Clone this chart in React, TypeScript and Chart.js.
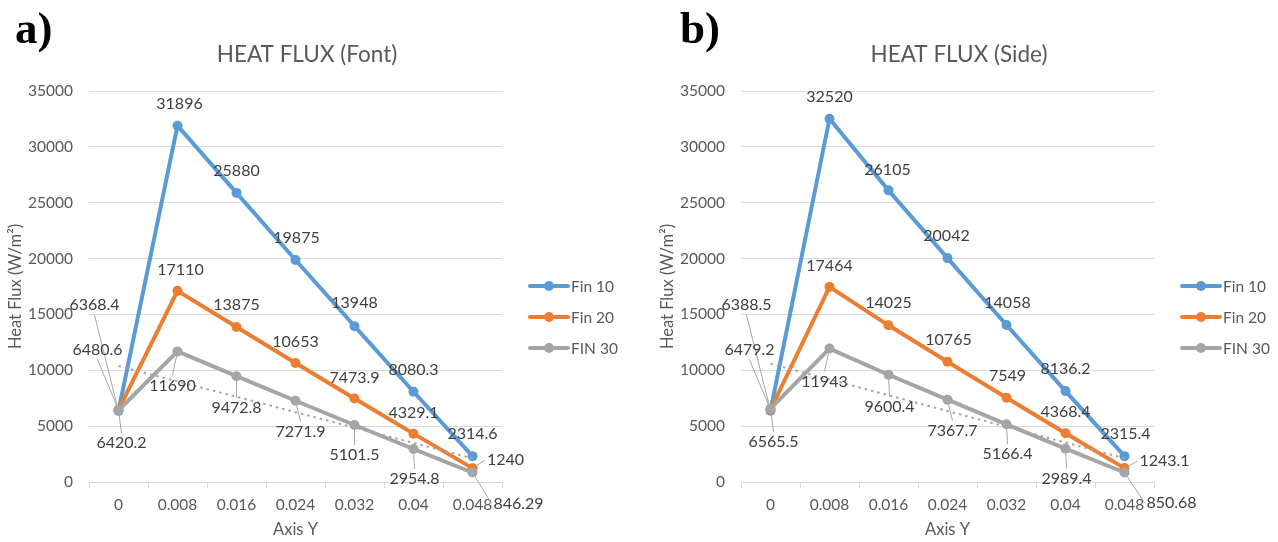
import React, { useEffect, useRef } from "react";
import { Chart, registerables } from "chart.js";

Chart.register(...registerables);

// ---------- data ----------
const categories = ["0", "0.008", "0.016", "0.024", "0.032", "0.04", "0.048"];
const yTicks = [0, 5000, 10000, 15000, 20000, 25000, 30000, 35000];

const frontFin10 = [6368.4, 31896, 25880, 19875, 13948, 8080.3, 2314.6];
const frontFin20 = [6480.6, 17110, 13875, 10653, 7473.9, 4329.1, 1240];
const frontFin30 = [6420.2, 11690, 9472.8, 7271.9, 5101.5, 2954.8, 846.29];

const sideFin10 = [6388.5, 32520, 26105, 20042, 14058, 8136.2, 2315.4];
const sideFin20 = [6479.2, 17464, 14025, 10765, 7549, 4368.4, 1243.1];
const sideFin30 = [6565.5, 11943, 9600.4, 7367.7, 5166.4, 2989.4, 850.68];

const seriesNames = ["Fin 10", "Fin 20", "FIN 30"];

// label placement (pixel offsets of label centre from its point)
const frontLabelOffsets = [
  [[-24, -106], [2, -22], [0, -22], [1, -22], [0, -23], [0, -22], [0, -22]],
  [[-21, -60], [3, -21], [0, -22], [0, -21], [0, -21], [0, -21], [33, -8]],
  [[3, 33], [-5, 34], [0, 32], [5, 31], [0, 30], [1, 30], [46, 31]],
];
const sideLabelOffsets = [
  [[-24, -106], [0, -22], [-1, -21], [-1, -22], [1, -22], [0, -22], [1, -22]],
  [[-21, -60], [0, -21], [0, -22], [1, -22], [1, -22], [0, -21], [40, -7]],
  [[3, 33], [-5, 33], [1, 32], [5, 31], [1, 30], [1, 30], [47, 30]],
];

// ---------- style ----------
const COLORS = ["#5B9BD5", "#ED7D31", "#A5A5A5"];
const TEXT = "#595959";
const LABEL = "#404040";
const GRID = "#D9D9D9";
const FONT = "Lato";

function linearTrend(values: number[]): number[] {
  const n = values.length;
  const mx = (n - 1) / 2;
  const my = values.reduce((a, b) => a + b, 0) / n;
  let sxy = 0;
  let sxx = 0;
  values.forEach((v, i) => {
    sxy += (i - mx) * (v - my);
    sxx += (i - mx) * (i - mx);
  });
  const slope = sxy / sxx;
  return values.map((_, i) => my + slope * (i - mx));
}

const dataLabelPlugin = {
  id: "dataLabels",
  afterDatasetsDraw(chart: any, _args: any, opts: any) {
    const ctx = chart.ctx;
    const offsets = opts.offsets as number[][][];
    ctx.save();
    ctx.font = `16px ${FONT}`;
    ctx.textAlign = "center";
    ctx.textBaseline = "middle";
    for (let di = 0; di < 3; di++) {
      const meta = chart.getDatasetMeta(di);
      const ds = chart.data.datasets[di];
      meta.data.forEach((pt: any, i: number) => {
        const text = String(ds.data[i]);
        const [dx, dy] = offsets[di][i];
        const cx = pt.x + dx;
        const cy = pt.y + dy;
        const w = ctx.measureText(text).width;
        const h = 16;
        if (Math.hypot(dx, dy) > 26) {
          let sx: number, sy: number;
          if (Math.abs(dy) > Math.abs(dx)) {
            sx = cx;
            sy = dy > 0 ? cy - h / 2 - 2 : cy + h / 2 + 2;
          } else {
            sx = dx > 0 ? cx - w / 2 - 2 : cx + w / 2 + 2;
            sy = cy;
          }
          const vx = sx - pt.x;
          const vy = sy - pt.y;
          const len = Math.hypot(vx, vy) || 1;
          const ex = pt.x + (vx / len) * 4;
          const ey = pt.y + (vy / len) * 4;
          ctx.strokeStyle = "#A6A6A6";
          ctx.lineWidth = 1;
          ctx.beginPath();
          ctx.moveTo(sx, sy);
          ctx.lineTo(ex, ey);
          ctx.stroke();
        }
        ctx.fillStyle = LABEL;
        ctx.fillText(text, cx, cy);
      });
    }
    ctx.restore();
  },
};

const legendPlugin = {
  id: "lineLegend",
  afterDraw(chart: any) {
    const { ctx, chartArea } = chart;
    const x0 = chartArea.right + 28;
    ctx.save();
    chart.data.datasets.slice(0, 3).forEach((ds: any, i: number) => {
      const y = chartArea.top + 195 + i * 31;
      ctx.strokeStyle = ds.borderColor;
      ctx.fillStyle = ds.borderColor;
      ctx.lineWidth = 4;
      ctx.lineCap = "round";
      ctx.beginPath();
      ctx.moveTo(x0, y);
      ctx.lineTo(x0 + 38, y);
      ctx.stroke();
      ctx.beginPath();
      ctx.arc(x0 + 19, y, 5, 0, Math.PI * 2);
      ctx.fill();
      ctx.fillStyle = TEXT;
      ctx.font = `15.5px ${FONT}`;
      ctx.textAlign = "left";
      ctx.textBaseline = "middle";
      ctx.fillText(ds.label, x0 + 41, y + 1);
    });
    ctx.restore();
  },
};

function Panel(props: {
  title: string;
  s10: number[];
  s20: number[];
  s30: number[];
  offsets: number[][][];
}) {
  const ref = useRef<HTMLCanvasElement>(null);
  useEffect(() => {
    const series = [props.s10, props.s20, props.s30];
    const datasets: any[] = series.map((data, i) => ({
      label: seriesNames[i],
      data,
      borderColor: COLORS[i],
      backgroundColor: COLORS[i],
      borderWidth: 4,
      pointRadius: 5,
      pointBorderWidth: 0,
      pointBackgroundColor: COLORS[i],
      tension: 0,
      order: 3 - i,
    }));
    datasets.push({
      label: "Linear (FIN 30)",
      data: linearTrend(props.s30),
      borderColor: "#A5A5A5",
      borderWidth: 2,
      borderDash: [2.5, 4],
      pointRadius: 0,
      tension: 0,
      order: 0,
    });
    const chart = new Chart(ref.current as HTMLCanvasElement, {
      type: "line",
      data: { labels: categories, datasets },
      options: {
        responsive: false,
        animation: false,
        layout: { padding: { left: 0, right: 26, top: 0, bottom: 0 } },
        plugins: {
          legend: { display: false },
          tooltip: { enabled: false },
          title: {
            display: true,
            text: props.title,
            color: TEXT,
            font: { family: FONT, size: 22.5, weight: "normal" },
            padding: { top: 41, bottom: 23 },
          },
          dataLabels: { offsets: props.offsets },
        } as any,
        scales: {
          x: {
            type: "category",
            offset: true,
            grid: {
              offset: true,
              drawOnChartArea: false,
              drawTicks: true,
              tickLength: 6,
              color: GRID,
            },
            border: { display: true, color: GRID, width: 1 },
            ticks: {
              color: TEXT,
              font: { family: FONT, size: 15.5 },
              padding: 8,
              maxRotation: 0,
              autoSkip: false,
            },
            title: {
              display: true,
              text: "Axis Y",
              color: TEXT,
              font: { family: FONT, size: 16.5 },
              padding: { top: 0, bottom: 2 },
            },
            afterFit: (s: any) => {
              s.height = 60;
            },
          },
          y: {
            type: "linear",
            min: yTicks[0],
            max: yTicks[yTicks.length - 1],
            afterBuildTicks: (s: any) => {
              s.ticks = yTicks.map((v) => ({ value: v }));
            },
            ticks: {
              callback: (v: any) => String(v),
              padding: 16,
              color: TEXT,
              font: { family: FONT, size: 15.5 },
            },
            grid: { color: GRID, drawTicks: false },
            border: { display: false },
            title: {
              display: true,
              text: "Heat Flux (W/m²)",
              color: TEXT,
              font: { family: FONT, size: 16.5 },
              padding: { top: 6, bottom: 0 },
            },
            afterFit: (s: any) => {
              s.width = 89;
            },
          },
          yRight: {
            type: "linear",
            position: "right",
            display: true,
            ticks: { display: false },
            grid: { display: false },
            border: { display: false },
            afterFit: (s: any) => {
              s.width = 112;
            },
          },
        } as any,
      },
      plugins: [dataLabelPlugin, legendPlugin],
    });
    return () => chart.destroy();
  }, []);
  return <canvas ref={ref} width={640} height={542} style={{ display: "block" }} />;
}

const letterStyle: React.CSSProperties = {
  position: "absolute",
  top: 6,
  fontFamily: "'Liberation Serif', 'Times New Roman', serif",
  fontWeight: "bold",
  fontSize: 45,
  lineHeight: "45px",
  color: "#000",
};

export default function App() {
  return (
    <div
      style={{
        position: "absolute",
        left: 0,
        top: 0,
        width: 1278,
        height: 542,
        overflow: "hidden",
        background: "#fff",
      }}
    >
      <div style={{ position: "absolute", left: 0, top: 0 }}>
        <Panel
          title="HEAT FLUX (Font)"
          s10={frontFin10}
          s20={frontFin20}
          s30={frontFin30}
          offsets={frontLabelOffsets}
        />
      </div>
      <div style={{ position: "absolute", left: 652, top: 0 }}>
        <Panel
          title="HEAT FLUX (Side)"
          s10={sideFin10}
          s20={sideFin20}
          s30={sideFin30}
          offsets={sideLabelOffsets}
        />
      </div>
      <div style={{ ...letterStyle, left: 15 }}>a)</div>
      <div style={{ ...letterStyle, left: 680 }}>b)</div>
    </div>
  );
}
